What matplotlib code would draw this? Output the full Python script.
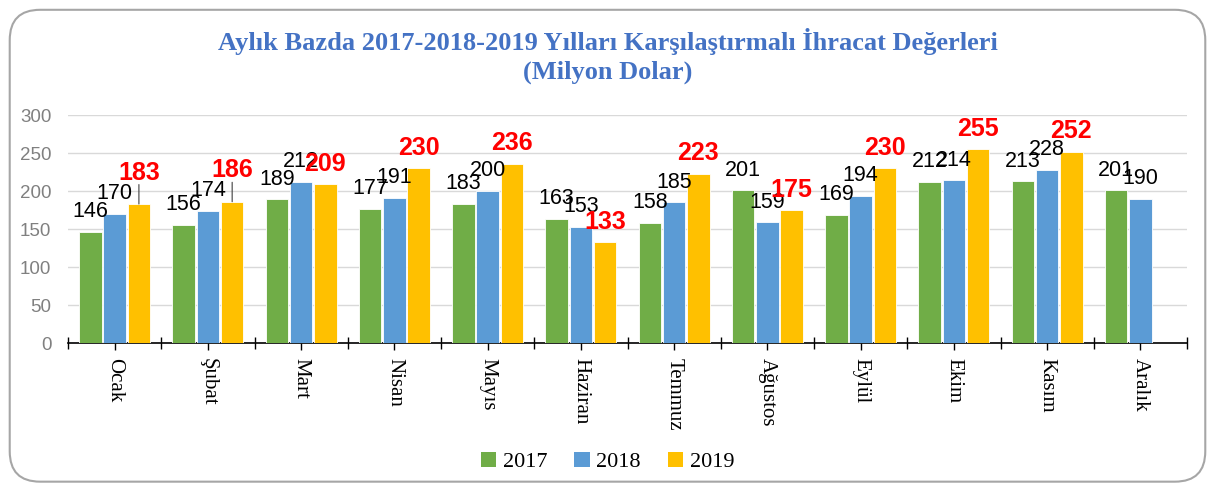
import numpy as np
import matplotlib.pyplot as plt
from matplotlib.patches import FancyBboxPatch, Patch

months = ["Ocak", "Şubat", "Mart", "Nisan", "Mayıs", "Haziran",
          "Temmuz", "Ağustos", "Eylül", "Ekim", "Kasım", "Aralık"]
years = ["2017", "2018", "2019"]
v2017 = [146, 156, 189, 177, 183, 163, 158, 201, 169, 212, 213, 201]
v2018 = [170, 174, 212, 191, 200, 153, 185, 159, 194, 214, 228, 190]
v2019 = [183, 186, 209, 230, 236, 133, 223, 175, 230, 255, 252, None]
colors = ["#70AD47", "#5B9BD5", "#FFC000"]

fig = plt.figure(figsize=(12.15, 4.9), dpi=100)
ax = fig.add_axes([0.056, 0.30, 0.921, 0.465])

# rounded frame around the whole chart
frame = FancyBboxPatch((0.008, 0.017), 0.984, 0.963,
                       boxstyle="round,pad=0,rounding_size=0.025",
                       transform=fig.transFigure, fill=False,
                       edgecolor="#A6A6A6", linewidth=1.5,
                       mutation_aspect=2.48)
fig.patches.append(frame)

x = np.arange(len(months))
width = 0.24
step = 0.26
series = [v2017, v2018, v2019]
for i, (vals, col) in enumerate(zip(series, colors)):
    idx = [j for j, v in enumerate(vals) if v is not None]
    hv = [vals[j] for j in idx]
    xs = x[idx] + (i - 1) * step
    ax.bar(xs, hv, width, color=col, edgecolor="white", linewidth=0.6,
           zorder=3)
    for j, xx, v in zip(idx, xs, hv):
        if i == 2:
            # labels too close to the 2018 label get pushed up with a leader
            lifted = 0 < v - v2018[j] < 15
            dy = 14 if lifted else 6
            ax.annotate(str(v), (xx, v), xytext=(0, dy),
                        textcoords="offset points", ha="center",
                        va="bottom", color="red", fontsize=18,
                        fontweight="bold", family="Liberation Sans",
                        zorder=5)
            if lifted:
                ax.annotate("", (xx, v), xytext=(0, dy),
                            textcoords="offset points",
                            arrowprops=dict(arrowstyle="-", color="#404040",
                                            lw=0.8, shrinkA=0, shrinkB=0),
                            zorder=4)
        else:
            ax.annotate(str(v), (xx, v), xytext=(0, 7),
                        textcoords="offset points", ha="center",
                        va="bottom", color="black", fontsize=15.5,
                        family="Liberation Sans", zorder=4)

ax.set_ylim(0, 300)
ax.set_xlim(-0.5, len(months) - 0.5)
ax.set_yticks(range(0, 301, 50))
ax.yaxis.grid(True, color="#D9D9D9", linewidth=1, zorder=0)
ax.tick_params(axis="y", length=0, labelsize=13.5, labelcolor="#808080",
               pad=12)
for lab in ax.get_yticklabels():
    lab.set_family("Liberation Sans")

ax.set_xticks(np.arange(-0.5, len(months), 1.0))
ax.set_xticklabels([])
ax.set_xticks(x, minor=True)
ax.set_xticklabels(months, minor=True, rotation=270, fontsize=15,
                   family="Liberation Serif", va="top", ha="center")
ax.tick_params(axis="x", which="major", length=8, direction="inout",
               width=1)
ax.tick_params(axis="x", which="minor", length=5, direction="out",
               width=1, pad=6)

for s in ["left", "right", "top"]:
    ax.spines[s].set_visible(False)
ax.spines["bottom"].set_linewidth(1.2)

fig.text(0.5, 0.915, "Aylık Bazda 2017-2018-2019 Yılları Karşılaştırmalı İhracat Değerleri",
         ha="center", va="center", fontsize=19, fontweight="bold",
         family="Liberation Serif", color="#4472C4")
fig.text(0.5, 0.852, "(Milyon Dolar)", ha="center", va="center",
         fontsize=19, fontweight="bold", family="Liberation Serif",
         color="#4472C4")

handles = [Patch(facecolor=c, edgecolor="none") for c in colors]
fig.legend(handles, years, loc="center", bbox_to_anchor=(0.5, 0.057),
           ncol=3, frameon=False, handlelength=0.7, handleheight=0.7,
           handletextpad=0.3, columnspacing=1.2,
           prop={"family": "Liberation Serif", "size": 16})

fig.savefig("out.png", dpi=100)
